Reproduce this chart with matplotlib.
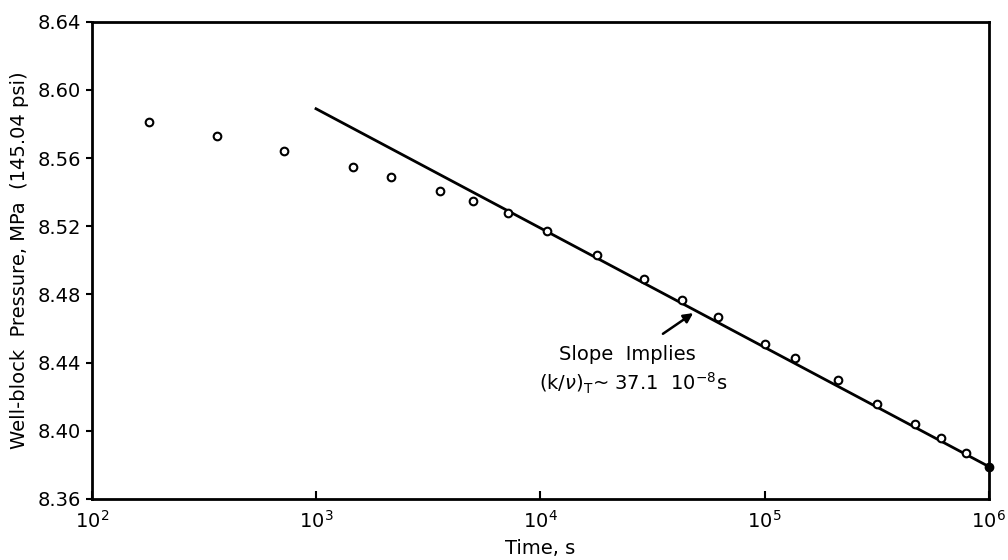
import matplotlib
matplotlib.use('Agg')
import matplotlib.pyplot as plt
import numpy as np

# data
time_s = [180, 362, 722, 1459, 2163, 3589, 5012, 7160, 10720, 17900, 28900,
          42800, 62000, 100900, 137000, 213000, 318000, 468000, 611000, 789000]
pressure = [8.581, 8.573, 8.564, 8.555, 8.549, 8.541, 8.535, 8.528, 8.517, 8.503,
            8.489, 8.477, 8.467, 8.451, 8.443, 8.430, 8.416, 8.404, 8.396, 8.387]
last_time = [1.0e6]
last_pressure = [8.379]
fit_time = [1.0e3, 1.0e6]
fit_pressure = [8.589, 8.379]

yticks = [8.36, 8.40, 8.44, 8.48, 8.52, 8.56, 8.60, 8.64]

plt.rcParams['font.family'] = ['DejaVu Sans']

fig = plt.figure(figsize=(10.08, 5.6), dpi=100)
ax = fig.add_axes([0.091, 0.109, 0.890, 0.852])

ax.plot(fit_time, fit_pressure, color='black', lw=2)
ax.plot(time_s, pressure, 'o', ms=5.5, mfc='white', mec='black', mew=1.5)
ax.plot(last_time, last_pressure, 'o', ms=6, color='black', clip_on=False, zorder=5)

ax.set_xscale('log')
ax.set_xlim(1e2, 1e6)
ax.set_ylim(8.36, 8.64)
ax.set_yticks(yticks)
ax.set_yticklabels(['%.2f' % v for v in yticks])
ax.xaxis.set_minor_locator(matplotlib.ticker.NullLocator())
ax.tick_params(axis='x', direction='in', length=6, width=1.5, labelsize=14, pad=8)
ax.tick_params(axis='y', direction='out', length=4, width=1.5, labelsize=14)
for s in ax.spines.values():
    s.set_linewidth(2)

ax.set_xlabel('Time, s', fontsize=14, labelpad=5)
ax.set_ylabel('Well-block  Pressure, MPa  (145.04 psi)', fontsize=14, labelpad=6)

ax.annotate('', xy=(49200, 8.470), xytext=(34400, 8.456),
            arrowprops=dict(arrowstyle='-|>', color='black', lw=1.8, mutation_scale=14))
ax.text(24400, 8.4445, 'Slope  Implies', fontsize=14, ha='center', va='center')
ax.text(26000, 8.428, r'(k/$\nu$)$_{\mathrm{T}}$~ 37.1  10$^{-8}$s', fontsize=14,
        ha='center', va='center')

fig.savefig('out.png', dpi=100)
